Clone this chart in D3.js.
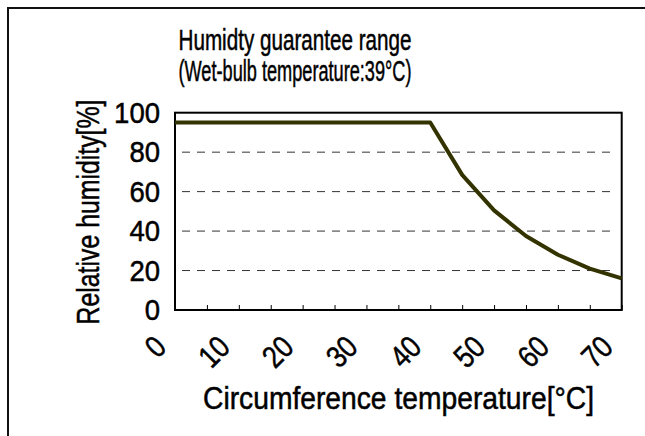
<!DOCTYPE html>
<html>
<head>
<meta charset="utf-8">
<script src="https://cdn.jsdelivr.net/npm/d3@7"></script>
<style>
  html, body { margin: 0; padding: 0; background: #fff; }
  svg { display: block; font-family: "Liberation Sans", Arial, sans-serif; }
  text { stroke: #000; stroke-width: 0.5px; fill: #000; }
</style>
</head>
<body>
<svg id="chart" width="645" height="436"></svg>
<script>
// ---- data ----
const categories = [0, 5, 10, 15, 20, 25, 30, 35, 40, 45, 50, 55, 60, 65, 70];
const humidity   = [95, 95, 95, 95, 95, 95, 95, 95, 95, 68.5, 50.5, 37.5, 28, 21, 16];
const xTickLabels = [0, 10, 20, 30, 40, 50, 60, 70];
const yTicks = [0, 20, 40, 60, 80, 100];
const titleLines = ["Humidty guarantee range", "(Wet-bulb temperature:39\u00B0C)"];
const xTitle = "Circumference temperature[\u00B0C]";
const yTitle = "Relative humidity[%]";

// ---- layout ----
const svg = d3.select("#chart");
const plot = { left: 175, right: 621.7, top: 112.7, bottom: 310 };

const x = d3.scalePoint().domain(categories).range([plot.left, plot.right]);
const y = d3.scaleLinear().domain([0, 100]).range([plot.bottom, plot.top]);

// outer chart border (extends beyond the visible window)
svg.append("rect")
  .attr("x", 8).attr("y", 8).attr("width", 800).attr("height", 600)
  .attr("fill", "none").attr("stroke", "#111").attr("stroke-width", 2);

// title
svg.append("g").selectAll("text").data(titleLines).join("text")
  .attr("x", 295).attr("y", (d, i) => 50 + i * 31)
  .attr("text-anchor", "middle")
  .attr("font-size", 29)
  .attr("textLength", 233)
  .attr("lengthAdjust", "spacingAndGlyphs")
  .text(d => d);

// gridlines
svg.append("g").selectAll("line").data(yTicks.filter(v => v > 0 && v < 100)).join("line")
  .attr("x1", plot.left + 7).attr("x2", plot.right - 7)
  .attr("y1", d => y(d)).attr("y2", d => y(d))
  .attr("stroke", "#333").attr("stroke-width", 1)
  .attr("stroke-dasharray", "8,7");

// x axis ticks (inside, between every category)
const xAxis = d3.axisBottom(x).tickSize(-5).tickFormat("").tickSizeOuter(0);
const gx = svg.append("g").attr("transform", `translate(0,${plot.bottom})`).call(xAxis);
gx.select(".domain").remove();
gx.selectAll(".tick line").attr("stroke", "#000").attr("stroke-width", 1);

// x tick labels
svg.append("g").selectAll("text").data(xTickLabels).join("text")
  .attr("transform", d => `translate(${x(d) - 7},349) rotate(-45)`)
  .attr("text-anchor", "end")
  .attr("font-size", 31)
  .attr("textLength", d => String(d).length * 14.5)
  .attr("lengthAdjust", "spacingAndGlyphs")
  .text(d => d);

// y tick labels
const yAxis = d3.axisLeft(y).tickValues(yTicks).tickSize(0).tickPadding(15);
const gy = svg.append("g").attr("transform", `translate(${plot.left},0)`).call(yAxis);
gy.select(".domain").remove();
gy.selectAll("text")
  .attr("font-size", 30)
  .attr("font-family", "'Liberation Sans', Arial, sans-serif")
  .attr("textLength", d => String(d).length * 15.3)
  .attr("lengthAdjust", "spacingAndGlyphs")
  .attr("fill", "#000");

// plot border
svg.append("rect")
  .attr("x", plot.left).attr("y", plot.top)
  .attr("width", plot.right - plot.left).attr("height", plot.bottom - plot.top)
  .attr("fill", "none").attr("stroke", "#000").attr("stroke-width", 2);

// data line
const line = d3.line().x((d, i) => x(categories[i])).y(d => y(d));
svg.append("path").datum(humidity)
  .attr("d", line)
  .attr("fill", "none")
  .attr("stroke", "#333300")
  .attr("stroke-width", 4)
  .attr("stroke-linejoin", "round");

// axis titles
svg.append("text")
  .attr("x", 398.5).attr("y", 409)
  .attr("text-anchor", "middle")
  .attr("font-size", 31)
  .attr("textLength", 391)
  .attr("lengthAdjust", "spacingAndGlyphs")
  .text(xTitle);

svg.append("text")
  .attr("transform", "translate(99,212) rotate(-90)")
  .attr("text-anchor", "middle")
  .attr("font-size", 31)
  .attr("textLength", 225)
  .attr("lengthAdjust", "spacingAndGlyphs")
  .text(yTitle);
</script>
</body>
</html>
